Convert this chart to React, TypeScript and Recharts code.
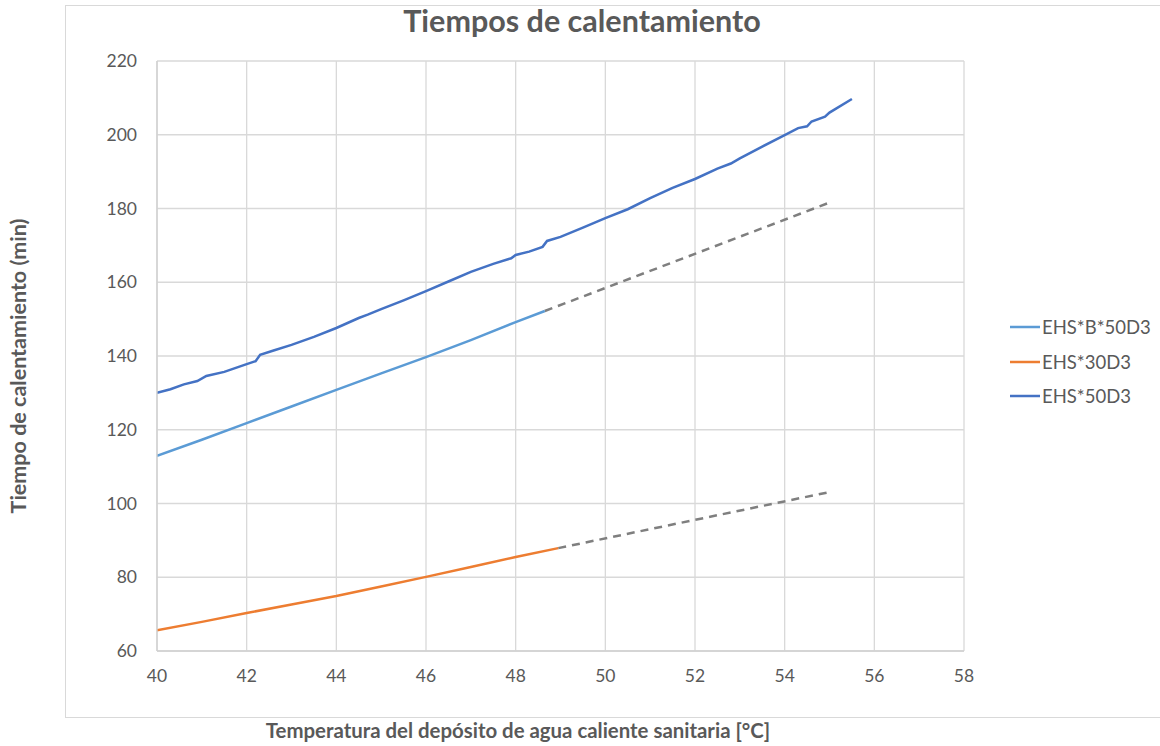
import React from "react";
import { LineChart, Line, XAxis, YAxis, CartesianGrid, Legend } from "recharts";

// ---- Data ----
const xTicks = [40, 42, 44, 46, 48, 50, 52, 54, 56, 58];
const yTicks = [60, 80, 100, 120, 140, 160, 180, 200, 220];

const tempB50 = [40, 41, 42, 43, 44, 45, 46, 47, 48, 48.65];
const timeB50 = [112.9, 117.3, 121.8, 126.3, 130.8, 135.3, 139.7, 144.3, 149.2, 152.2];

const temp30 = [40, 41, 42, 43, 44, 45, 46, 47, 48, 48.95];
const time30 = [65.6, 67.9, 70.3, 72.6, 74.9, 77.5, 80.1, 82.8, 85.5, 87.9];

const temp50 = [
  40, 40.3, 40.6, 40.9, 41.1, 41.5, 42.0, 42.2, 42.3, 42.6, 43, 43.5, 44, 44.5, 44.7,
  45, 45.5, 46, 46.5, 47, 47.5, 47.9, 48.0, 48.3, 48.6, 48.7, 49, 49.5, 50, 50.5, 51,
  51.5, 52, 52.5, 52.8, 53, 53.5, 54, 54.3, 54.5, 54.6, 54.9, 55.0, 55.5,
];
const time50 = [
  130.0, 131.0, 132.3, 133.2, 134.6, 135.7, 137.8, 138.6, 140.3, 141.5, 143.0, 145.2, 147.6,
  150.3, 151.2, 152.7, 155.1, 157.6, 160.2, 162.8, 165.0, 166.5, 167.4, 168.3, 169.6, 171.2,
  172.3, 174.8, 177.4, 179.8, 182.8, 185.6, 188.0, 190.8, 192.2, 193.6, 196.8, 199.9, 201.8,
  202.3, 203.6, 204.9, 206.0, 209.7,
];

const extTempB50 = [48.65, 55];
const extTimeB50 = [152.2, 181.6];
const extTemp30 = [48.95, 55];
const extTime30 = [87.9, 103.1];

const legendNames = ["EHS*B*50D3", "EHS*30D3", "EHS*50D3"];
const legendColors = ["#5B9BD5", "#ED7D31", "#4472C4"];

const toPts = (xs: number[], ys: number[]) => xs.map((x, i) => ({ x, y: ys[i] }));

const FONT = "Lato, 'Open Sans', 'Liberation Sans', sans-serif";
const TEXT = "#595959";
const LEGEND_W = 150;

const LegendContent = () => (
  <div style={{ fontFamily: FONT, fontSize: 18.5, color: TEXT }}>
    {legendNames.map((n, i) => (
      <div key={n} style={{ display: "flex", alignItems: "center", height: 34.5 }}>
        <svg width={30} height={10} style={{ marginRight: 2 }}>
          <line x1={0} y1={5} x2={30} y2={5} stroke={legendColors[i]} strokeWidth={2.5} />
        </svg>
        <span>{n}</span>
      </div>
    ))}
  </div>
);

export default function App() {
  return (
    <div style={{ position: "absolute", left: 0, top: 0, width: 1160, height: 746, background: "#fff" }}>
      <div
        style={{
          position: "absolute",
          left: 65,
          top: 5,
          width: 1100,
          height: 713,
          border: "1px solid #d9d9d9",
          boxSizing: "border-box",
        }}
      />
      <div
        style={{
          position: "absolute",
          left: 582,
          top: 20,
          transform: "translate(-50%, -50%)",
          whiteSpace: "nowrap",
          fontFamily: FONT,
          fontWeight: 700,
          fontSize: 30.5,
          color: TEXT,
        }}
      >
        Tiempos de calentamiento
      </div>
      <div
        style={{
          position: "absolute",
          left: 18,
          top: 366,
          transform: "translate(-50%, -50%) rotate(-90deg)",
          whiteSpace: "nowrap",
          fontFamily: FONT,
          fontWeight: 700,
          fontSize: 21.5,
          color: TEXT,
        }}
      >
        Tiempo de calentamiento (min)
      </div>
      <div
        style={{
          position: "absolute",
          left: 518,
          top: 730,
          transform: "translate(-50%, -50%)",
          whiteSpace: "nowrap",
          fontFamily: FONT,
          fontWeight: 700,
          fontSize: 20.4,
          color: TEXT,
        }}
      >
        Temperatura del depósito de agua caliente sanitaria [°C]
      </div>
      <div style={{ position: "absolute", left: 0, top: 0 }}>
        <LineChart width={1160} height={746} margin={{ top: 61, right: 196 - LEGEND_W, bottom: 55, left: 65 }}>
          <CartesianGrid stroke="#d9d9d9" strokeWidth={1.3} />
          <XAxis
            type="number"
            dataKey="x"
            domain={[40, 58]}
            ticks={xTicks}
            height={40}
            tickLine={false}
            axisLine={{ stroke: "#d0d0d0", strokeWidth: 1.3 }}
            tickMargin={13}
            tick={{ fill: TEXT, fontSize: 17.5, fontFamily: FONT }}
            allowDataOverflow
          />
          <YAxis
            type="number"
            domain={[60, 220]}
            ticks={yTicks}
            width={92}
            tickLine={false}
            axisLine={{ stroke: "#d0d0d0", strokeWidth: 1.3 }}
            tickMargin={14}
            tick={{ fill: TEXT, fontSize: 17.5, fontFamily: FONT }}
            allowDataOverflow
          />
          <Legend
            layout="vertical"
            align="right"
            verticalAlign="middle"
            content={<LegendContent />}
            wrapperStyle={{ left: 1010, top: 310, width: LEGEND_W }}
          />
          <Line
            data={toPts(extTempB50, extTimeB50)}
            dataKey="y"
            name="extB50"
            stroke="#7F7F7F"
            strokeWidth={2.5}
            strokeDasharray="8 6"
            dot={false}
            legendType="none"
            isAnimationActive={false}
          />
          <Line
            data={toPts(extTemp30, extTime30)}
            dataKey="y"
            name="ext30"
            stroke="#7F7F7F"
            strokeWidth={2.5}
            strokeDasharray="8 6"
            dot={false}
            legendType="none"
            isAnimationActive={false}
          />
          <Line
            data={toPts(tempB50, timeB50)}
            dataKey="y"
            name="EHS*B*50D3"
            stroke="#5B9BD5"
            strokeWidth={2.5}
            dot={false}
            isAnimationActive={false}
          />
          <Line
            data={toPts(temp30, time30)}
            dataKey="y"
            name="EHS*30D3"
            stroke="#ED7D31"
            strokeWidth={2.5}
            dot={false}
            isAnimationActive={false}
          />
          <Line
            data={toPts(temp50, time50)}
            dataKey="y"
            name="EHS*50D3"
            stroke="#4472C4"
            strokeWidth={2.5}
            dot={false}
            isAnimationActive={false}
          />
        </LineChart>
      </div>
    </div>
  );
}
